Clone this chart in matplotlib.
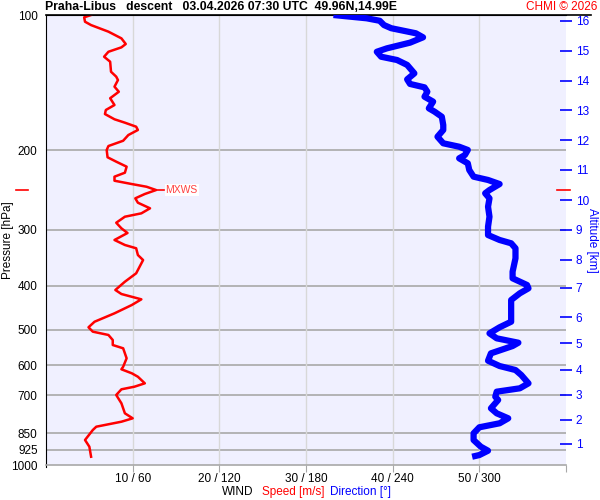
import numpy as np
import matplotlib
matplotlib.use('Agg')
import matplotlib.pyplot as plt
from matplotlib.ticker import NullLocator

plt.rcParams['font.family'] = ['Liberation Sans', 'DejaVu Sans']

# Wind speed profile (pressure hPa, speed m/s)
speed_p = [100, 101.2, 103.5, 105.3, 108.9, 112.7, 116.0, 118.0, 120.7, 123.8,
           127.0, 133.7, 137.1, 139.5, 144.3, 148.1, 153.1, 158.5, 162.6, 166.0,
           170.5, 173.5, 177.1, 180.1, 184.8, 190.3, 195.5, 199.5, 207.1, 211.8,
           217.3, 224.1, 228.7, 233.5, 237.5, 240.8, 244.9, 249.9, 255.5, 261.3,
           268.9, 275.9, 280.7, 289.5, 297.9, 305.1, 316.2, 324.4, 329.9, 341.5,
           350.4, 375.0, 391.5, 408.4, 416.9, 428.4, 441.0, 460.2, 480.4, 494.3,
           505.5, 514.1, 527.5, 541.2, 550.4, 579.3, 604.8, 612.8, 625.5, 636.6,
           658.4, 669.9, 678.9, 698.9, 729.3, 767.6, 787.5, 801.3, 822.0, 836.0,
           879.9, 910.6, 958.5]
speed_ms = [5.2, 4.4, 4.5, 5.2, 7.2, 8.7, 9.2, 8.7, 7.2, 6.7,
            7.4, 7.5, 8.1, 8.3, 7.9, 8.4, 7.4, 7.9, 6.9, 6.8,
            7.9, 9.1, 10.4, 10.6, 9.5, 8.9, 7.2, 7.0, 7.1, 8.1,
            9.3, 9.1, 7.9, 7.9, 9.9, 11.6, 12.7, 11.4, 10.3, 10.6,
            12.0, 11.0, 9.1, 8.1, 8.7, 9.4, 7.9, 9.1, 10.4, 10.6,
            11.2, 10.4, 9.1, 8.0, 8.7, 11.0, 9.9, 7.9, 5.6, 4.9,
            5.4, 7.2, 7.7, 7.7, 8.9, 9.3, 8.9, 8.7, 9.9, 10.6,
            11.4, 10.2, 8.7, 8.1, 8.7, 9.1, 10.0, 8.7, 5.8, 5.4,
            4.5, 5.0, 5.2]

# Wind direction profile (pressure hPa, direction deg)
dir_p = [100, 101.7, 103.0, 105.3, 107.0, 109.8, 112.1, 115.2, 118.6, 120.7,
         123.8, 125.9, 129.1, 134.8, 139.0, 142.3, 144.8, 148.1, 151.9, 155.8,
         161.2, 164.0, 168.3, 175.6, 180.1, 186.4, 192.8, 196.2, 199.5, 204.7,
         208.2, 213.6, 221.0, 228.7, 232.6, 237.5, 244.9, 249.0, 255.5, 266.7,
         280.7, 295.4, 308.3, 316.2, 321.6, 329.9, 347.3, 371.9, 384.7, 398.1,
         404.9, 415.4, 429.9, 456.4, 480.4, 494.3, 509.8, 523.0, 534.9, 544.0,
         564.8, 586.5, 602.6, 615.1, 631.0, 658.4, 675.4, 687.2, 705.0, 717.0,
         748.2, 767.6, 787.5, 807.8, 824.5, 850.3, 880.0, 910.6, 929.5, 950.3,
         958.5]
dir_deg = [199, 222, 231, 234, 239, 256, 261, 252, 236, 229,
           232, 243, 250, 255, 250, 252, 262, 264, 262, 268,
           265, 269, 274, 275, 275, 271, 275, 286, 292, 290,
           286, 292, 293, 296, 306, 314, 307, 304, 307, 306,
           307, 306, 306, 314, 322, 325, 325, 323, 323, 333,
           334, 328, 322, 322, 322, 314, 307, 312, 327, 323,
           308, 306, 314, 325, 329, 334, 328, 312, 311, 313,
           308, 312, 320, 314, 300, 296, 296, 301, 306, 300,
           295]

p_ticks = [100, 200, 300, 400, 500, 600, 700, 850, 925, 1000]
speed_ticks = [10, 20, 30, 40, 50]
dir_ticks = [60, 120, 180, 240, 300]
alt_km = list(range(1, 17))
alt_p = [898, 794, 698, 615, 536, 469, 404, 350, 300, 258,
         221, 190, 163, 140, 120, 103]
mxws_p = 245

title = 'Praha-Libus   descent   03.04.2026 07:30 UTC  49.96N,14.99E'

fig = plt.figure(figsize=(6, 5), dpi=100)
ax = fig.add_axes([0.0767, 0.07, 0.8667, 0.90])
ax.set_facecolor('#f0f0ff')
ax.set_yscale('log')
ax.set_ylim(1000, 100)
ax.set_xlim(0, 60)

for p in p_ticks[1:-1]:
    ax.axhline(p, color='#a8a8a8', lw=1.2, zorder=1)
for s in speed_ticks:
    ax.axvline(s, color='#d8d8d8', lw=1, zorder=1)

ax.yaxis.set_minor_locator(NullLocator())
ax.set_yticks(p_ticks)
ax.set_yticklabels([str(p) for p in p_ticks], fontsize=8.5)
ax.tick_params(axis='y', length=0, pad=6)
ax.set_xticks(speed_ticks + [60])
ax.set_xticklabels([f'{s} / {d}' for s, d in zip(speed_ticks, dir_ticks)] + [''],
                   fontsize=8.5)
ax.tick_params(axis='x', length=5, color='#a8a8a8', pad=0.5)

ax.spines['right'].set_visible(False)
ax.spines['bottom'].set_color('#a8a8a8')
ax.spines['bottom'].set_linewidth(1.2)
ax.spines['left'].set_color('black')
ax.spines['left'].set_bounds(1010, 100)
ax.spines['top'].set_color('black')
ax.plot([0, 1.048], [1, 1], transform=ax.transAxes, color='black', lw=1.2,
        clip_on=False, zorder=5)

# speed
ax.plot(speed_ms, speed_p, color='#ff0000', lw=1.8, zorder=4)

# direction on its own 0-360 scale
axd = ax.twiny()
axd.set_xlim(0, 360)
axd.plot(dir_deg, dir_p, color='#0000ff', lw=4.5, solid_capstyle='butt', zorder=3)
axd.set_xticks([])
for side in axd.spines.values():
    side.set_visible(False)

# altitude axis
axa = ax.twinx()
axa.set_yscale('log')
axa.set_ylim(1000, 100)
axa.yaxis.set_minor_locator(NullLocator())
axa.set_yticks(alt_p)
axa.set_yticklabels([str(a) for a in alt_km], fontsize=8.5, color='#0000ff')
axa.tick_params(axis='y', colors='#0000ff', direction='inout', length=8,
                width=1.2, pad=3)
for side in axa.spines.values():
    side.set_visible(False)

# maximum wind marker
i_max = int(np.argmax(speed_ms))
ax.plot([speed_ms[i_max], speed_ms[i_max] + 0.9], [mxws_p, mxws_p],
        color='#ff0000', lw=1.2, zorder=4)
ax.text(speed_ms[i_max] + 1.1, mxws_p, 'MXWS', color='#ff4040', fontsize=7.5,
        va='center', ha='left', zorder=6,
        bbox=dict(facecolor='white', edgecolor='none', pad=0.5))
ax.plot([-3.5, -2.1], [mxws_p, mxws_p], color='#ff0000', lw=1.2, clip_on=False)
ax.plot([59.0, 60.4], [mxws_p, mxws_p], color='#ff0000', lw=1.2, clip_on=False)

# labels
fig.text(0.075, 0.986, title, fontsize=8.8, fontweight='bold', ha='left', va='center')
fig.text(0.995, 0.986, 'CHMI © 2026', fontsize=8.5, color='#ff0000', ha='right',
         va='center')
fig.text(0.014, 0.52, 'Pressure [hPa]', fontsize=8.5, rotation=90, ha='center',
         va='center')
fig.text(0.986, 0.52, 'Altitude [km]', fontsize=8.5, rotation=270, ha='center',
         va='center', color='#0000ff')
fig.text(0.397, 0.016, 'WIND', fontsize=8.5, ha='center', va='center')
fig.text(0.488, 0.016, 'Speed [m/s]', fontsize=8.5, ha='center', va='center',
         color='#ff0000')
fig.text(0.600, 0.016, 'Direction [°]', fontsize=8.5, ha='center', va='center',
         color='#0000ff')

fig.savefig('out.png', dpi=100)
